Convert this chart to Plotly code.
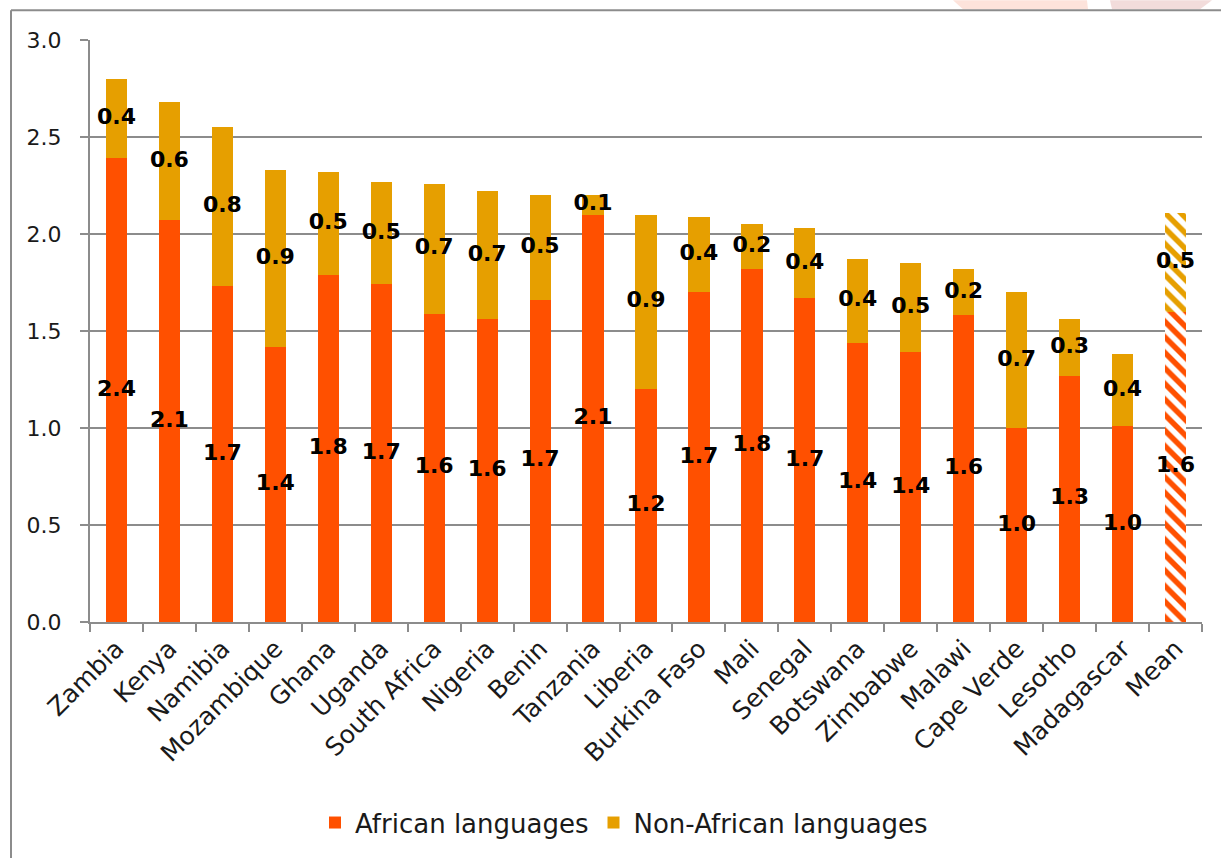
import plotly.graph_objects as go

# Average number of languages spoken, by country
countries = ["Zambia", "Kenya", "Namibia", "Mozambique", "Ghana", "Uganda",
             "South Africa", "Nigeria", "Benin", "Tanzania", "Liberia",
             "Burkina Faso", "Mali", "Senegal", "Botswana", "Zimbabwe",
             "Malawi", "Cape Verde", "Lesotho", "Madagascar"]
african = [2.39, 2.07, 1.73, 1.42, 1.79, 1.74, 1.59, 1.56, 1.66, 2.10, 1.20,
           1.70, 1.82, 1.67, 1.44, 1.39, 1.58, 1.00, 1.27, 1.01]
non_african = [0.41, 0.61, 0.82, 0.91, 0.53, 0.53, 0.67, 0.66, 0.54, 0.10, 0.90,
               0.39, 0.23, 0.36, 0.43, 0.46, 0.24, 0.70, 0.29, 0.37]

mean_label = "Mean"
mean_african = 1.60
mean_non_african = 0.51

y_ticks = [0.0, 0.5, 1.0, 1.5, 2.0, 2.5, 3.0]

RED = "#FF5000"
GOLD = "#E69F00"
GRID = "#8c8c8c"
FONT = "DejaVu Sans"

fig = go.Figure()

fig.add_trace(go.Bar(x=countries, y=african, name="African languages",
                     marker=dict(color=RED, line=dict(width=0))))
fig.add_trace(go.Bar(x=countries, y=non_african, name="Non-African languages",
                     marker=dict(color=GOLD, line=dict(width=0))))

# Hatched mean bar
hatch = dict(shape="\\", bgcolor="white", size=11, solidity=0.5, fgopacity=1)
fig.add_trace(go.Bar(x=[mean_label], y=[mean_african], showlegend=False,
                     marker=dict(color=RED, line=dict(width=0),
                                 pattern=dict(fgcolor=RED, **hatch))))
fig.add_trace(go.Bar(x=[mean_label], y=[mean_non_african], showlegend=False,
                     marker=dict(color=GOLD, line=dict(width=0),
                                 pattern=dict(fgcolor=GOLD, **hatch))))

# Value labels centred in each segment
all_x = countries + [mean_label]
all_a = african + [mean_african]
all_n = non_african + [mean_non_african]
lab_x = all_x + all_x
lab_y = [a / 2 for a in all_a] + [a + n / 2 for a, n in zip(all_a, all_n)]
lab_t = [f"{v:.1f}" for v in all_a] + [f"{v:.1f}" for v in all_n]
fig.add_trace(go.Scatter(x=lab_x, y=lab_y, text=lab_t, mode="text",
                         showlegend=False, hoverinfo="skip",
                         textfont=dict(family=FONT, size=22, color="black",
                                       weight="bold")))

# Frame of the chart area
def px_x(v):
    return (v - 90) / 1112


def px_y(v):
    return (626 - v) / 586


shapes = [
    dict(type="path", xref="paper", yref="paper", layer="below",
         path=f"M {px_x(953)} {px_y(0)} L {px_x(1087)} {px_y(0)} L {px_x(1088)} {px_y(9)} "
              f"L {px_x(963)} {px_y(9)} Z",
         fillcolor="#fde3db", line=dict(width=0)),
    dict(type="path", xref="paper", yref="paper", layer="below",
         path=f"M {px_x(1110)} {px_y(0)} L {px_x(1212)} {px_y(0)} L {px_x(1200)} {px_y(9)} "
              f"L {px_x(1112)} {px_y(9)} Z",
         fillcolor="#f2dcdb", line=dict(width=0)),
    dict(type="line", xref="paper", yref="paper",
         x0=px_x(11), x1=px_x(11), y0=px_y(10), y1=px_y(870),
         line=dict(color=GRID, width=2)),
    dict(type="line", xref="paper", yref="paper",
         x0=px_x(11), x1=px_x(1230), y0=px_y(10), y1=px_y(10),
         line=dict(color=GRID, width=2)),
]

fig.update_layout(
    width=1221, height=858,
    margin=dict(l=90, r=19, t=40, b=232),
    paper_bgcolor="white", plot_bgcolor="white",
    barmode="stack", bargap=0.6,
    font=dict(family=FONT, size=22, color="#1a1a1a"),
    shapes=shapes,
    legend=dict(orientation="h", x=px_x(624), y=px_y(828),
                xanchor="center", yanchor="middle",
                font=dict(family=FONT, size=26, color="#1a1a1a"),
                itemsizing="constant", traceorder="normal"),
)

fig.update_xaxes(
    type="category", categoryorder="array", categoryarray=all_x,
    range=[-0.5, len(all_x) - 0.5],
    tickangle=-45, tickson="boundaries", ticks="outside", ticklen=8,
    tickwidth=2, tickcolor=GRID, showline=True, linecolor=GRID, linewidth=2,
    tickfont=dict(family=FONT, size=25, color="#1a1a1a"),
    showgrid=False,
)
fig.update_yaxes(
    range=[0, 3.0], tickvals=y_ticks, tickformat=".1f",
    ticks="outside", ticklen=8, tickwidth=2, tickcolor=GRID,
    showline=True, linecolor=GRID, linewidth=2,
    showgrid=True, gridcolor=GRID, gridwidth=1.5,
    zeroline=False, ticklabelstandoff=14,
    tickfont=dict(family=FONT, size=22, color="#1a1a1a"),
)

fig.write_html("out.html")
